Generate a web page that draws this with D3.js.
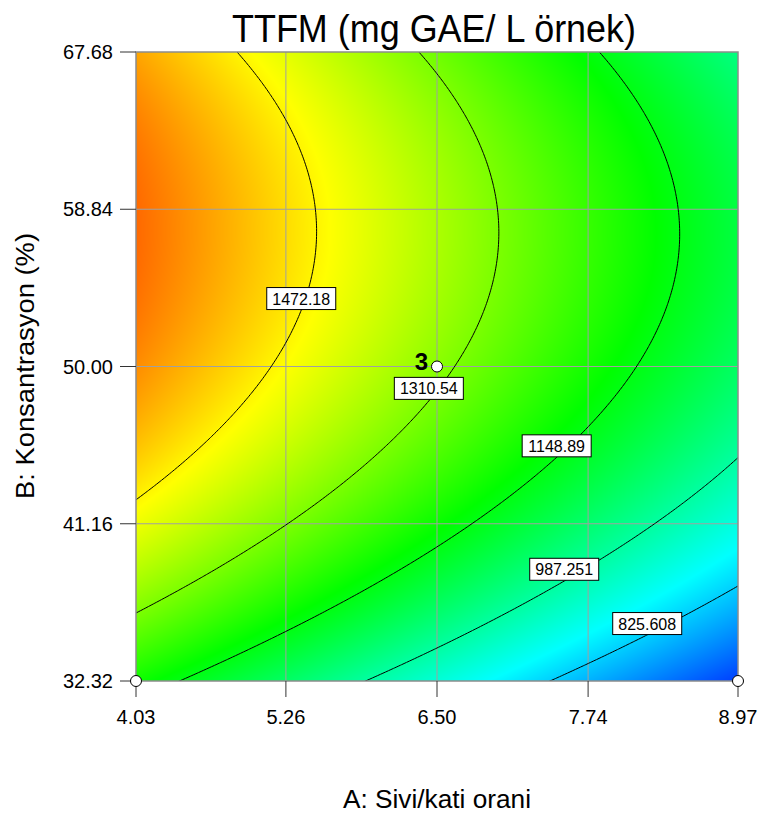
<!DOCTYPE html>
<html>
<head>
<meta charset="utf-8">
<script src="https://cdn.jsdelivr.net/npm/d3@7"></script>
<style>
  body { margin: 0; background: #fff; }
  svg text { font-family: "Liberation Sans", Arial, sans-serif; }
</style>
</head>
<body>
<svg id="chart" width="763" height="816"></svg>
<script>
// axis ticks
const aTicks = [4.03, 5.26, 6.50, 7.74, 8.97]
const bTicks = [32.32, 41.16, 50.00, 58.84, 67.68]
const aTickLabels = ['4.03', '5.26', '6.50', '7.74', '8.97']
const bTickLabels = ['32.32', '41.16', '50.00', '58.84', '67.68']

// contour levels and the label shown on each
const levels = [825.608, 987.251, 1148.89, 1310.54, 1472.18]
const levelLabels = ['825.608', '987.251', '1148.89', '1310.54', '1472.18']

// points, [A, B]
const trace825 = [[8.97, 37.48], [8.549, 36.41], [7.737, 33.32], [7.454, 32.32]]
const trace987 = [[8.97, 44.65], [8.275, 41.00], [7.737, 39.31], [6.503, 33.91], [5.923, 32.32]]
const trace1148 = [[7.824, 67.68], [8.275, 62.73], [8.502, 57.58], [8.180, 50.03], [7.737, 46.28], [6.503, 39.80], [5.267, 35.19], [4.391, 32.32]]
const trace1310 = [[6.35, 67.68], [6.853, 62.73], [7.009, 57.58], [6.631, 50.03], [5.923, 44.75], [5.267, 41.19], [4.03, 36.16]]
const trace1472 = [[4.869, 67.68], [5.267, 63.86], [5.431, 60.49], [5.526, 57.58], [5.185, 50.03], [4.555, 45.69], [4.03, 42.46]]
const traces = [trace825, trace987, trace1148, trace1310, trace1472]

// where the contour labels sit, [A, B]
const labelPos = [[8.225, 35.55], [7.544, 38.60], [7.482, 45.54], [6.433, 48.77], [5.386, 53.82]]

// design points [A, B, replicate label]
const designA = [4.03, 6.50, 8.97]
const designB = [32.32, 50.00, 32.32]
const designLabel = ['', '3', '']

// colour ramp stops (response values)
const colorStops = [590, 880, 1170, 1460, 1750]
const colorRange = ['#0000ff', '#00ffff', '#00ff00', '#ffff00', '#ff0000']

const W = 763, H = 816
const plot = {left: 136, right: 738, top: 52, bottom: 681}

const xScale = d3.scaleLinear().domain([4.03, 8.97]).range([plot.left, plot.right])
const yScale = d3.scaleLinear().domain([32.32, 67.68]).range([plot.bottom, plot.top])
const color = d3.scaleLinear().domain(colorStops).range(colorRange).clamp(true)

// coded units for the quadratic model
const code = (A, B) => [(A - 6.5) / 2.47, (B - 50) / 17.68]
const basis = (A, B) => { const [a, b] = code(A, B); return [1, a, b, a * b, a * a, b * b] }

function fitSurface() {
	const M = d3.range(6).map(() => new Array(7).fill(0))
	traces.forEach((tr, k) => {
		tr.forEach(([A, B]) => {
			const x = basis(A, B)
			for (let i = 0; i < 6; i++) {
				for (let j = 0; j < 6; j++) M[i][j] += x[i] * x[j]
				M[i][6] += x[i] * levels[k]
			}
		})
	})
	for (let c = 0; c < 6; c++) {
		let p = c
		for (let r = c + 1; r < 6; r++) if (Math.abs(M[r][c]) > Math.abs(M[p][c])) p = r
		const t = M[c]; M[c] = M[p]; M[p] = t
		for (let r = 0; r < 6; r++) {
			if (r === c) continue
			const f = M[r][c] / M[c][c]
			for (let j = c; j < 7; j++) M[r][j] -= f * M[c][j]
		}
	}
	return M.map((row, i) => row[6] / row[i])
}
const coef = fitSurface()
const surface = (A, B) => d3.sum(basis(A, B), (v, i) => v * coef[i])

const svg = d3.select('#chart')
svg.append('rect').attr('width', W).attr('height', H).attr('fill', '#fff')

// colour field
const pw = plot.right - plot.left, ph = plot.bottom - plot.top
const canvas = document.createElement('canvas')
canvas.width = pw; canvas.height = ph
const ctx = canvas.getContext('2d')
const img = ctx.createImageData(pw, ph)
for (let py = 0; py < ph; py++) {
	for (let px = 0; px < pw; px++) {
		const A = xScale.invert(plot.left + px + 0.5)
		const B = yScale.invert(plot.top + py + 0.5)
		const c = d3.rgb(color(surface(A, B)))
		const o = (py * pw + px) * 4
		img.data[o] = c.r; img.data[o + 1] = c.g; img.data[o + 2] = c.b; img.data[o + 3] = 255
	}
}
ctx.putImageData(img, 0, 0)
svg.append('image')
	.attr('x', plot.left).attr('y', plot.top)
	.attr('width', pw).attr('height', ph)
	.attr('preserveAspectRatio', 'none')
	.attr('href', canvas.toDataURL())

svg.append('clipPath').attr('id', 'plotClip')
	.append('rect')
	.attr('x', plot.left).attr('y', plot.top)
	.attr('width', pw).attr('height', ph)

// grid lines
const grid = svg.append('g').attr('stroke', '#a0a0a0').attr('stroke-width', 1)
grid.selectAll('.vg').data(aTicks.slice(1, -1)).join('line')
	.attr('x1', d => xScale(d)).attr('x2', d => xScale(d))
	.attr('y1', plot.top).attr('y2', plot.bottom)
grid.selectAll('.hg').data(bTicks.slice(1, -1)).join('line')
	.attr('y1', d => yScale(d)).attr('y2', d => yScale(d))
	.attr('x1', plot.left).attr('x2', plot.right)

// contour lines, computed on a grid slightly larger than the plot and clipped
const nx = 260, ny = 260
const A0 = 3.7, A1 = 9.3, B0 = 30.5, B1 = 69.5
const dA = (A1 - A0) / (nx - 1), dB = (B1 - B0) / (ny - 1)
const values = new Array(nx * ny)
for (let j = 0; j < ny; j++)
	for (let i = 0; i < nx; i++) values[j * nx + i] = surface(A0 + i * dA, B0 + j * dB)
const contours = d3.contours().size([nx, ny]).thresholds(levels)(values)
const proj = d3.geoTransform({
	point: function(x, y) {
		this.stream.point(xScale(A0 + (x - 0.5) * dA), yScale(B0 + (y - 0.5) * dB))
	}
})
svg.append('g').attr('clip-path', 'url(#plotClip)')
	.selectAll('path').data(contours).join('path')
	.attr('d', d3.geoPath(proj))
	.attr('fill', 'none')
	.attr('stroke', '#000')
	.attr('stroke-width', 1)

// plot border
svg.append('rect')
	.attr('x', plot.left).attr('y', plot.top)
	.attr('width', pw).attr('height', ph)
	.attr('fill', 'none').attr('stroke', '#8c8c8c').attr('stroke-width', 1.5)

// ticks
svg.append('g').selectAll('line').data(aTicks).join('line')
	.attr('x1', d => xScale(d)).attr('x2', d => xScale(d))
	.attr('y1', plot.bottom).attr('y2', plot.bottom + 16)
	.attr('stroke', '#333')
svg.append('g').selectAll('line').data(bTicks).join('line')
	.attr('y1', d => yScale(d)).attr('y2', d => yScale(d))
	.attr('x1', plot.left - 16).attr('x2', plot.left)
	.attr('stroke', '#333')

svg.append('g').selectAll('text').data(aTicks).join('text')
	.attr('x', d => xScale(d)).attr('y', 724)
	.attr('text-anchor', 'middle').attr('font-size', 20)
	.text((d, i) => aTickLabels[i])
svg.append('g').selectAll('text').data(bTicks).join('text')
	.attr('x', 113).attr('y', d => yScale(d) + 7)
	.attr('text-anchor', 'end').attr('font-size', 20)
	.text((d, i) => bTickLabels[i])

// contour labels
const lab = svg.append('g').selectAll('g').data(labelPos).join('g')
	.attr('transform', d => `translate(${xScale(d[0])},${yScale(d[1])})`)
lab.append('rect')
	.attr('x', -34.5).attr('y', -11).attr('width', 69).attr('height', 22)
	.attr('fill', '#fff').attr('stroke', '#000').attr('stroke-width', 1)
lab.append('text')
	.attr('y', 6).attr('text-anchor', 'middle').attr('font-size', 16)
	.text((d, i) => levelLabels[i])

// design points
const pts = svg.append('g')
pts.selectAll('circle').data(designA).join('circle')
	.attr('cx', d => xScale(d)).attr('cy', (d, i) => yScale(designB[i]))
	.attr('r', 5.5).attr('fill', '#fff').attr('stroke', '#000').attr('stroke-width', 1)
pts.selectAll('text').data(designA).join('text')
	.attr('x', d => xScale(d) - 9).attr('y', (d, i) => yScale(designB[i]) + 3)
	.attr('text-anchor', 'end').attr('font-size', 24).attr('font-weight', 'bold')
	.text((d, i) => designLabel[i])

// titles
svg.append('text')
	.attr('x', 434).attr('y', 42).attr('text-anchor', 'middle')
	.attr('font-size', 38).attr('textLength', 404).attr('lengthAdjust', 'spacingAndGlyphs')
	.text('TTFM (mg GAE/ L örnek)')
svg.append('text')
	.attr('x', 437).attr('y', 808).attr('text-anchor', 'middle')
	.attr('font-size', 25).attr('textLength', 188).attr('lengthAdjust', 'spacingAndGlyphs')
	.text('A: Sivi/kati orani')
svg.append('text')
	.attr('transform', 'translate(34,366) rotate(-90)').attr('text-anchor', 'middle')
	.attr('font-size', 25).attr('textLength', 266).attr('lengthAdjust', 'spacingAndGlyphs')
	.text('B: Konsantrasyon (%)')
</script>
</body>
</html>
